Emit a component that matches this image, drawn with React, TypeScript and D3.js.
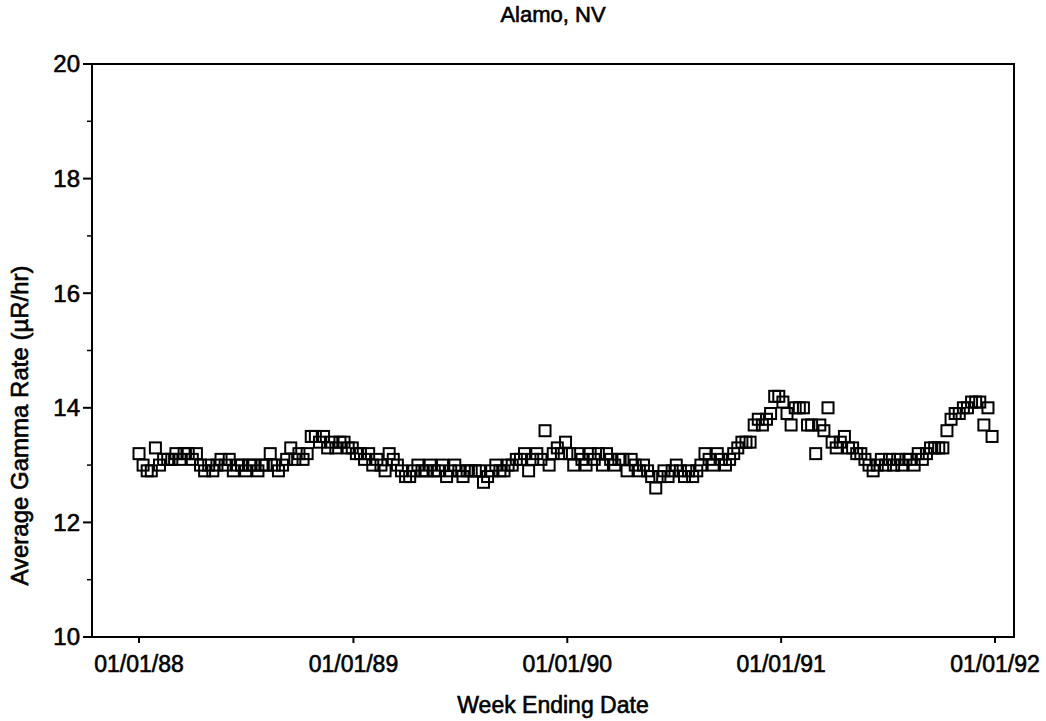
import React from "react";
import * as d3 from "d3";

const chartTitle = "Alamo, NV";
const xAxisTitle = "Week Ending Date";
const yAxisTitle = "Average Gamma Rate (\u00B5R/hr)";

const firstWeek = "1988-01-01";
const gammaRate = [
  13.2, 13.0, 12.9, 12.9, 13.3, 13.0, 13.1, 13.1, 13.1, 13.2,
  13.1, 13.2, 13.2, 13.1, 13.2, 13.0, 12.9, 13.0, 12.9, 13.0,
  13.1, 13.0, 13.1, 12.9, 13.0, 13.0, 12.9, 13.0, 13.0, 12.9,
  13.0, 13.0, 13.2, 13.0, 12.9, 13.0, 13.1, 13.3, 13.1, 13.2,
  13.1, 13.2, 13.5, 13.5, 13.4, 13.5, 13.3, 13.4, 13.3, 13.4,
  13.4, 13.3, 13.3,
  13.2, 13.2, 13.1, 13.2, 13.0, 13.1, 13.0, 12.9, 13.2, 13.1,
  13.0, 12.9, 12.8, 12.8, 12.9, 13.0, 12.9, 12.9, 13.0, 12.9,
  12.9, 13.0, 12.8, 12.9, 13.0, 12.9, 12.8, 12.9, 12.9, 12.9,
  12.9, 12.7, 12.8, 12.9, 13.0, 12.9, 12.9, 13.0, 13.0, 13.1,
  13.1, 13.2, 12.9, 13.1, 13.2, 13.1, 13.6, 13.0, 13.2, 13.3,
  13.2, 13.4,
  13.2, 13.0, 13.2, 13.1, 13.0, 13.2, 13.1, 13.2, 13.0, 13.2,
  13.1, 13.0, 13.1, 13.1, 12.9, 13.1, 13.0, 12.9, 13.0, 12.9,
  12.8, 12.6, 12.8, 12.9, 12.8, 12.9, 13.0, 12.9, 12.8, 12.9,
  12.8, 12.9, 13.0, 13.2, 13.1, 13.0, 13.2, 13.1, 13.0, 13.1,
  13.2, 13.3, 13.4, 13.4, 13.4, 13.7, 13.8, 13.7, 13.8, 13.9,
  14.2, 14.2,
  14.1, 13.9, 13.7, 14.0, 14.0, 14.0, 13.7, 13.7, 13.2, 13.7,
  13.6, 14.0, 13.4, 13.3, 13.4, 13.5, 13.3, 13.3, 13.2, 13.2,
  13.1, 13.0, 12.9, 13.0, 13.1, 13.0, 13.1, 13.0, 13.1, 13.0,
  13.1, 13.1, 13.0, 13.2, 13.1, 13.2, 13.3, 13.3, 13.3, 13.3,
  13.6, 13.8, 13.9, 13.9, 14.0, 14.0, 14.1, 14.1, 14.1, 13.7,
  14.0, 13.5,
];

const xTickDates = ["1988-01-01", "1989-01-01", "1990-01-01", "1991-01-01", "1992-01-01"];
const xTickLabels = ["01/01/88", "01/01/89", "01/01/90", "01/01/91", "01/01/92"];
const yMajorTicks = [10, 12, 14, 16, 18, 20];
const yMinorTicks = [11, 13, 15, 17, 19];

const parse = (s: string) => {
  const [y, m, d] = s.split("-").map(Number);
  return new Date(y, m - 1, d);
};

export default function App() {
  const W = 1046;
  const H = 721;
  const left = 92;
  const right = 1014;
  const top = 64;
  const bottom = 637;
  const font = "'Liberation Sans', Arial, Helvetica, sans-serif";
  const textStyle = { stroke: "#000", strokeWidth: 0.6 };

  const x = d3
    .scaleTime()
    .domain([parse(xTickDates[0]), parse(xTickDates[xTickDates.length - 1])])
    .range([139, 995]);
  const y = d3.scaleLinear().domain([10, 20]).range([bottom, top]);

  const start = parse(firstWeek);
  const points = gammaRate.map((v, i) => ({
    date: d3.timeDay.offset(start, i * 7),
    v,
  }));
  const s = 11;

  return (
    <svg
      width={W}
      height={H}
      style={{ position: "absolute", left: 0, top: 0, background: "#fff" }}
    >
      <rect x={0} y={0} width={W} height={H} fill="#fff" />
      <text x={553} y={22} textAnchor="middle" fontFamily={font} fontSize={22} fill="#000" style={textStyle}>
        {chartTitle}
      </text>
      <rect
        x={left}
        y={top}
        width={right - left}
        height={bottom - top}
        fill="none"
        stroke="#000"
        strokeWidth={2}
      />
      {yMajorTicks.map((t) => (
        <g key={"ym" + t}>
          <line x1={left - 9} x2={left} y1={y(t)} y2={y(t)} stroke="#000" strokeWidth={2} />
          <text
            x={left - 12}
            y={y(t)}
            dy="0.35em"
            textAnchor="end"
            fontFamily={font}
            fontSize={24}
            fill="#000"
            style={textStyle}
          >
            {t}
          </text>
        </g>
      ))}
      {yMinorTicks.map((t) => (
        <line key={"yn" + t} x1={left - 5} x2={left} y1={y(t)} y2={y(t)} stroke="#000" strokeWidth={1.5} />
      ))}
      {xTickDates.map((d, i) => {
        const px = x(parse(d));
        return (
          <g key={"xt" + d}>
            <line x1={px} x2={px} y1={bottom} y2={bottom + 6} stroke="#000" strokeWidth={2} />
            <text
              x={px}
              y={672}
              textAnchor="middle"
              fontFamily={font}
              fontSize={23}
              fill="#000"
              style={textStyle}
            >
              {xTickLabels[i]}
            </text>
          </g>
        );
      })}
      <text x={553} y={713} textAnchor="middle" fontFamily={font} fontSize={23} fill="#000" style={textStyle}>
        {xAxisTitle}
      </text>
      <text
        transform={`translate(28, ${(top + bottom) / 2 + 75}) rotate(-90)`}
        textAnchor="middle"
        fontFamily={font}
        fontSize={24}
        fill="#000"
        style={textStyle}
      >
        {yAxisTitle}
      </text>
      {points.map((p, i) => (
        <rect
          key={i}
          x={x(p.date) - s / 2}
          y={y(p.v) - s / 2}
          width={s}
          height={s}
          fill="none"
          stroke="#000"
          strokeWidth={2}
        />
      ))}
    </svg>
  );
}
